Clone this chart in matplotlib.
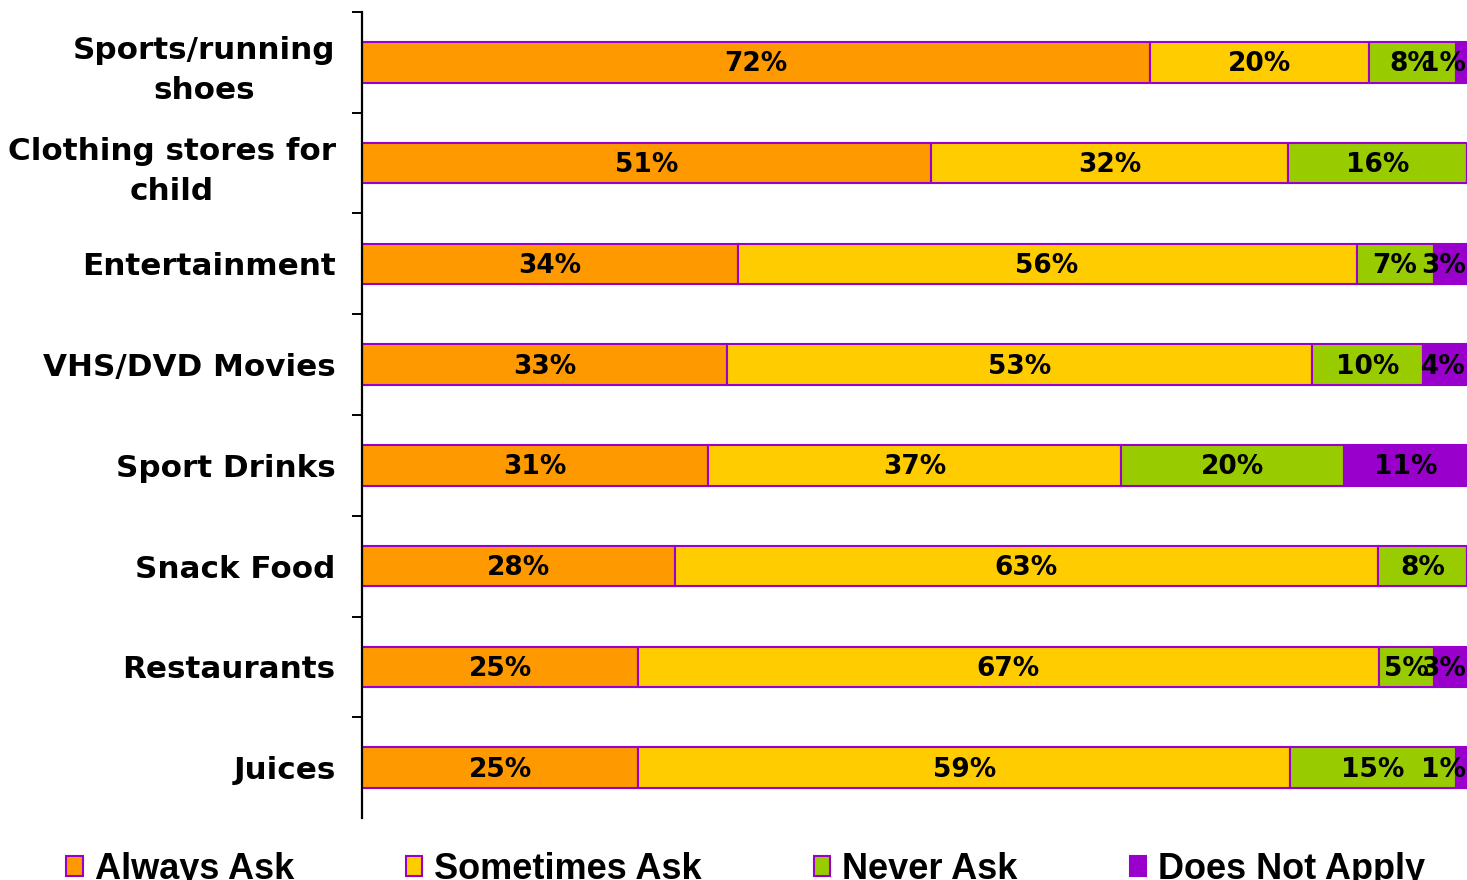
import matplotlib
matplotlib.use("Agg")
import matplotlib.pyplot as plt
from matplotlib.patches import Patch
import numpy as np

# Survey responses per product category (percent of respondents)
categories = [
    "Sports/running\nshoes",
    "Clothing stores for\nchild",
    "Entertainment",
    "VHS/DVD Movies",
    "Sport Drinks",
    "Snack Food",
    "Restaurants",
    "Juices",
]
always_ask = [72, 51, 34, 33, 31, 28, 25, 25]
sometimes_ask = [20, 32, 56, 53, 37, 63, 67, 59]
never_ask = [8, 16, 7, 10, 20, 8, 5, 15]
does_not_apply = [1, 0, 3, 4, 11, 0, 3, 1]

series_names = ["Always Ask", "Sometimes Ask", "Never Ask", "Does Not Apply"]
series_colors = ["#FF9900", "#FFCC00", "#99CC00", "#9900CC"]
edge_color = "#9900CC"

series = np.array([always_ask, sometimes_ask, never_ask, does_not_apply], dtype=float)
totals = series.sum(axis=0)
shares = series / totals * 100.0  # 100% stacked

W, H = 1467, 880
fig = plt.figure(figsize=(W / 100, H / 100), dpi=100)
ax = fig.add_axes([362 / W, 1 - 818 / H, (W - 362) / W, (818 - 12) / H])

y = np.arange(len(categories))
left = np.zeros(len(categories))
for i, (name, color) in enumerate(zip(series_names, series_colors)):
    widths = shares[i]
    ax.barh(y, widths, left=left, height=0.40, color=color,
            edgecolor=edge_color, linewidth=1.5, label=name)
    for j in range(len(categories)):
        if series[i, j] <= 0:
            continue
        cx = left[j] + widths[j] / 2
        ha = "center"
        if cx + 2.5 > 100:
            cx, ha = 99.9, "right"
        ax.text(cx, y[j] + 0.02, f"{int(series[i, j])}%", ha=ha, va="center",
                fontsize=19, fontweight="bold", family="DejaVu Sans",
                color="black", clip_on=False)
    left += widths

ax.set_xlim(0, 100)
ax.set_ylim(len(categories) - 0.5, -0.5)

for side in ("top", "right", "bottom"):
    ax.spines[side].set_visible(False)
ax.spines["left"].set_linewidth(1.6)
ax.set_xticks([])

ax.set_yticks(y)
ax.set_yticklabels(categories, fontsize=22.3, fontweight="bold",
                   family="DejaVu Sans", linespacing=1.48)
for lbl in ax.get_yticklabels():
    lbl.set_multialignment("center")
ax.tick_params(axis="y", which="major", length=0, pad=19)
ax.set_yticks(np.arange(-0.5, len(categories) - 1), minor=True)
ax.tick_params(axis="y", which="minor", length=7.5, width=1.4, direction="out")

handles = [Patch(facecolor=c, edgecolor=edge_color, linewidth=1.5) for c in series_colors]
fig.legend(handles, series_names, loc="lower left",
           bbox_to_anchor=(66 / W, -0.008), bbox_transform=fig.transFigure,
           ncol=4, frameon=False, borderpad=0, borderaxespad=0,
           handlelength=0.46, handleheight=0.46, handletextpad=0.33,
           columnspacing=3.1,
           prop={"family": "Liberation Sans", "weight": "bold", "size": 26.0})

fig.savefig("out.png", dpi=100)
